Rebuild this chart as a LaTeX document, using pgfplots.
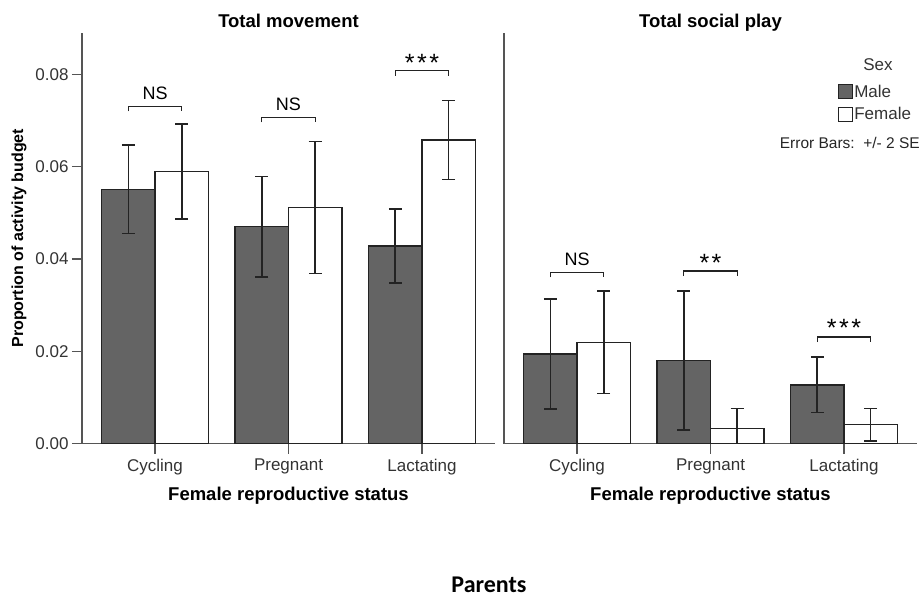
\documentclass[border=0pt]{standalone}
\usepackage{fontspec}
\setmainfont{Liberation Sans}
\newfontfamily\carlito{Carlito}
\usepackage{pgfplots}
\usepackage{pgfplotstable}
\pgfplotsset{compat=1.18}

\definecolor{barfill}{RGB}{100,100,100}
\definecolor{edge}{RGB}{35,35,35}
\definecolor{axisgray}{RGB}{85,85,85}

\newcommand{\fs}[1]{\fontsize{#1}{#1}\selectfont}
\newcommand{\stars}[1]{\fs{25}\ifcase#1\or*\or*\hspace{2.5pt}*\or*\hspace{2.5pt}*\hspace{2.5pt}*\fi}

% mean and 2 SE, one row per reproductive status
\pgfplotstableread{
cat male maleerr female femaleerr
0 0.0551 0.0096 0.0590 0.0103
1 0.0470 0.0109 0.0512 0.0143
2 0.0428 0.0080 0.0658 0.0086
}\movement
\pgfplotstableread{
cat male maleerr female femaleerr
0 0.0194 0.0119 0.0219 0.0111
1 0.0180 0.0151 0.0033 0.0043
2 0.0127 0.0060 0.0041 0.0035
}\socialplay

\tikzset{sig/.style={draw=edge, line width=1.2pt}}

\pgfplotsset{
  panel/.style={
    scale only axis, width=413pt, height=410.5pt,
    xmin=-0.547, xmax=2.547, ymin=0, ymax=0.089,
    axis lines=left, axis line style={-, draw=axisgray, line width=1.3pt},
    ybar=0pt, bar width=0.4,
    xtick={0,1,2}, xticklabels={Cycling,Pregnant,Lactating},
    tick align=outside, major tick length=10pt,
    tick style={draw=axisgray, line width=1.3pt},
    ticklabel style={font=\fs{17}, text=black!80},
    xticklabel style={yshift=-2pt},
    xlabel={Female reproductive status},
    xlabel style={font=\bfseries\fs{18.5}, at={(axis description cs:0.5,-0.1400)}, anchor=base},
    title style={font=\bfseries\fs{18.5}, at={(axis description cs:0.5,1)}, anchor=base, yshift=0pt},
  },
  sebars/.style={
    error bars/y dir=both, error bars/y explicit,
    error bars/error bar style={draw=edge, line width=1.6pt},
    error bars/error mark options={draw=edge, line width=1.6pt, mark size=6.5pt, rotate=90},
  },
  sqlegend/.style={legend image code/.code={\draw[##1] (0pt,-7pt) rectangle (14pt,7pt);}},
  malebar/.style={fill=barfill, draw=edge, line width=1.3pt, sebars, sqlegend},
  femalebar/.style={fill=white, draw=edge, line width=1.3pt, sebars, sqlegend},
}

\begin{document}
\begin{tikzpicture}
\useasboundingbox (0pt,0pt) rectangle (921pt,-597pt);

\begin{axis}[panel, at={(82pt,-443.5pt)}, anchor=south west,
  title={Total movement},
  ytick={0,0.02,0.04,0.06,0.08}, scaled y ticks=false,
  yticklabel style={/pgf/number format/.cd, fixed, fixed zerofill, precision=2, assume math mode=true},
  ylabel={Proportion of activity budget},
  ylabel style={font=\bfseries\fs{16}, at={(axis description cs:-0.1525,0.5)}, anchor=center},
]
  \addplot[malebar] table[x=cat, y=male, y error=maleerr] {\movement};
  \addplot[femalebar] table[x=cat, y=female, y error=femaleerr] {\movement};
  \draw[sig] (axis cs:-0.2,0.0720) -- (axis cs:-0.2,0.0731) -- (axis cs:0.2,0.0731) -- (axis cs:0.2,0.0720);
  \node[font=\fs{18}, anchor=base, inner sep=0pt] at (axis cs:0,0.0746) {NS};
  \draw[sig] (axis cs:0.8,0.0696) -- (axis cs:0.8,0.0707) -- (axis cs:1.2,0.0707) -- (axis cs:1.2,0.0696);
  \node[font=\fs{18}, anchor=base, inner sep=0pt] at (axis cs:1,0.0722) {NS};
  \draw[sig] (axis cs:1.8,0.0797) -- (axis cs:1.8,0.0808) -- (axis cs:2.2,0.0808) -- (axis cs:2.2,0.0797);
  \node[anchor=base, inner sep=0pt] at (axis cs:2,0.0806) {\stars{3}};
\end{axis}

\begin{axis}[panel, at={(504pt,-443.5pt)}, anchor=south west,
  title={Total social play},
  ytick=\empty,
  legend style={draw=none, fill=none, at={(axis description cs:0.807,0.878)}, anchor=north west,
    inner sep=0pt, font=\fs{17}, row sep=6pt, nodes={inner sep=1.5pt, text=black!80}},
  legend cell align=left,
]
  \addplot[malebar] table[x=cat, y=male, y error=maleerr] {\socialplay};
  \addplot[femalebar] table[x=cat, y=female, y error=femaleerr] {\socialplay};
  \legend{Male,Female}
  \draw[sig] (axis cs:-0.2,0.0360) -- (axis cs:-0.2,0.0371) -- (axis cs:0.2,0.0371) -- (axis cs:0.2,0.0360);
  \node[font=\fs{18}, anchor=base, inner sep=0pt] at (axis cs:0,0.0386) {NS};
  \draw[sig] (axis cs:0.8,0.0363) -- (axis cs:0.8,0.0374) -- (axis cs:1.2,0.0374) -- (axis cs:1.2,0.0363);
  \node[anchor=base, inner sep=0pt] at (axis cs:1,0.0374) {\stars{2}};
  \draw[sig] (axis cs:1.8,0.0220) -- (axis cs:1.8,0.0231) -- (axis cs:2.2,0.0231) -- (axis cs:2.2,0.0220);
  \node[anchor=base, inner sep=0pt] at (axis cs:2,0.0231) {\stars{3}};
\end{axis}

\node[font=\fs{17}, text=black!80, anchor=base] at (878pt,-70.5pt) {Sex};
\node[font=\fs{15.5}, text=black!85, anchor=base east, inner sep=0pt] at (920pt,-148pt) {Error Bars:\ \ +/- 2 SE};
\node[font=\carlito\bfseries\fs{24}, anchor=base] at (489pt,-592pt) {Parents};
\end{tikzpicture}
\end{document}
